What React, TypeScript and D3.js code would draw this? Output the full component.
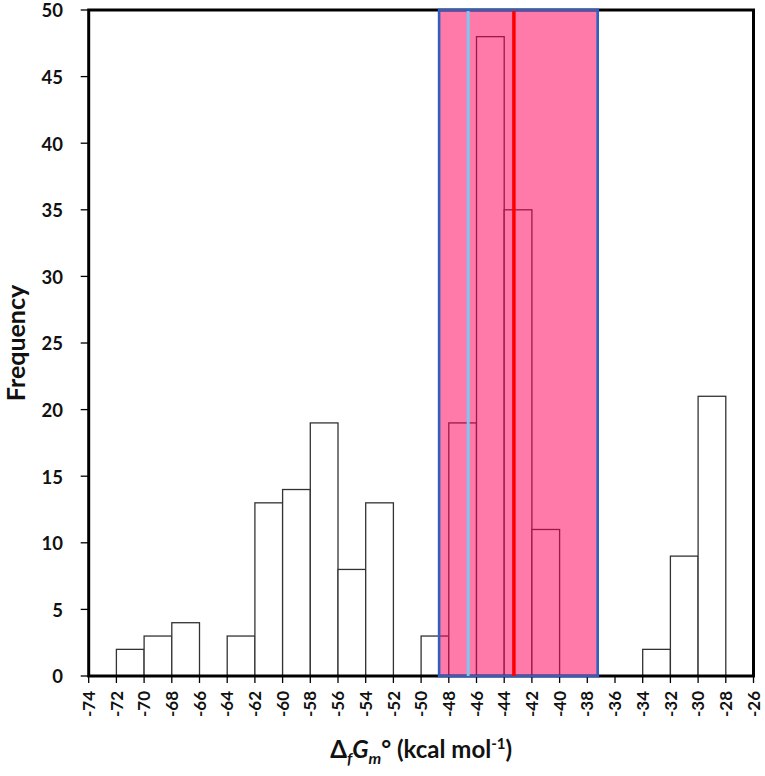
import React from "react";
import * as d3 from "d3";

const binStarts = [-72, -70, -68, -64, -62, -60, -58, -56, -54, -50, -48, -46, -44, -42, -34, -32, -30];
const counts = [2, 3, 4, 3, 13, 14, 19, 8, 13, 3, 19, 48, 35, 11, 2, 9, 21];
const binWidth = 2;
const xTicks = d3.range(-74, -25, 2);
const yTicks = [0, 5, 10, 15, 20, 25, 30, 35, 40, 45, 50];
const rangeLow = -48.7;
const rangeHigh = -37.25;
const cyanValue = -46.6;
const redValue = -43.3;

const W = 765, H = 776;
const left = 88.7, right = 753.5, top = 10, bottom = 676;

export default function App() {
  const x = d3.scaleLinear().domain([-74, -26]).range([left, right]);
  const y = d3.scaleLinear().domain([0, 50]).range([bottom, top]);
  const font = "Lato, 'Open Sans', sans-serif";
  return (
    <svg width={W} height={H} style={{ position: "absolute", left: 0, top: 0, background: "#fff" }}>
      {binStarts.map((b, i) => (
        <rect key={i} x={x(b)} y={y(counts[i])} width={x(b + binWidth) - x(b)} height={y(0) - y(counts[i])}
          fill="#fff" stroke="#333" strokeWidth={1.3} />
      ))}
      {/* frame */}
      <rect x={left} y={top} width={right - left} height={bottom - top} fill="none" stroke="#000" strokeWidth={3} />
      {/* y ticks */}
      {yTicks.map(t => (
        <g key={t}>
          <line x1={left - 8} x2={left} y1={y(t)} y2={y(t)} stroke="#000" strokeWidth={1.3} />
          <text x={63} y={y(t) + 1} dy="0.35em" textAnchor="end" fontFamily={font} fontWeight="bold" fontSize={18.5} fill="#111">{t}</text>
        </g>
      ))}
      {/* x ticks */}
      {xTicks.map(t => (
        <g key={t}>
          <line x1={x(t)} x2={x(t)} y1={bottom} y2={bottom + 7} stroke="#000" strokeWidth={1.3} />
          <text transform={`translate(${x(t)},${bottom + 15}) rotate(-90)`} dy="0.36em" textAnchor="end"
            fontFamily={font} fontWeight="bold" fontSize={17} fill="#111">{t}</text>
        </g>
      ))}
      {/* highlighted range */}
      <rect x={x(rangeLow)} y={top} width={x(rangeHigh) - x(rangeLow)} height={bottom - top}
        fill="rgb(255,0,90)" fillOpacity={0.52} stroke="none" />
      <rect x={x(rangeLow)} y={top} width={x(rangeHigh) - x(rangeLow)} height={bottom - top}
        fill="none" stroke="#2f5fbf" strokeWidth={2.6} />
      <line x1={x(cyanValue)} x2={x(cyanValue)} y1={top + 1} y2={bottom} stroke="#7cc8f2" strokeWidth={3} />
      <line x1={x(redValue)} x2={x(redValue)} y1={top + 1} y2={bottom} stroke="#ff0000" strokeWidth={3.5} />
      {/* axis titles */}
      <text transform={`translate(25,${(top + bottom) / 2}) rotate(-90)`} textAnchor="middle"
        fontFamily={font} fontWeight="bold" fontSize={25} fill="#111">Frequency</text>
      <text x={(left + right) / 2} y={758} textAnchor="middle" fontFamily={font} fontWeight="bold" fontSize={24} fill="#111">
        Δ<tspan fontStyle="italic" fontSize={16} dy={6}>f</tspan>
        <tspan fontStyle="italic" dy={-6}>G</tspan>
        <tspan fontStyle="italic" fontSize={16} dy={6}>m</tspan>
        <tspan dy={-6}>° (kcal mol</tspan>
        <tspan fontSize={15} dy={-9}>-1</tspan>
        <tspan dy={9}>)</tspan>
      </text>
    </svg>
  );
}
